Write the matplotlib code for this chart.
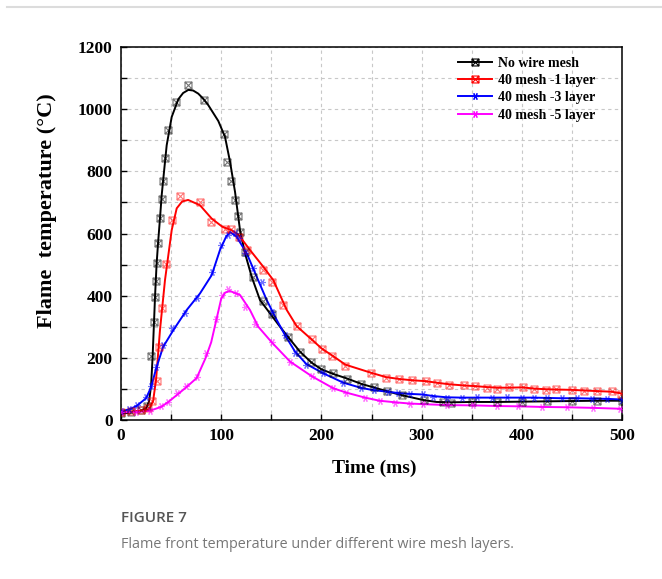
import numpy as np
import matplotlib
matplotlib.use("Agg")
import matplotlib.pyplot as plt
from matplotlib.path import Path
from matplotlib.ticker import MultipleLocator
from matplotlib.lines import Line2D

# values (time in ms, temperature in degC)
# measured points (markers)
t_none = [0, 10, 20, 26, 29.6, 33.3, 33.9, 34.9, 35.6, 36.6, 38.9, 40.6, 41.6, 43.9, 47.2,
          54.9, 66.9, 83.1, 103.1, 105.5, 109.8, 114.1, 116.5, 118.5, 123.8, 131.5, 141.7,
          151, 167, 178.6, 190, 200, 212, 226, 240, 252, 265, 280, 302, 321, 329, 350,
          375, 400, 425, 450, 475, 500]
T_none = [22, 26, 32, 45, 207, 316, 397, 448, 504, 570, 650, 712, 770, 843, 933,
          1023, 1078, 1028, 920, 829, 768, 707, 656, 605, 541, 459, 384,
          340, 266, 220, 185, 165, 150, 133, 115, 105, 92, 80, 64, 57, 56, 58,
          58, 59, 60, 61, 62, 62]

t_1 = [0, 10, 20, 27, 31, 35.6, 37.9, 40.6, 44.6, 50.6, 58.9, 78.8, 89.5, 103.8, 110, 118,
       125.4, 142, 151, 162, 175.3, 190.3, 200.3, 211, 224, 249.5, 264.5, 277.4, 290, 304,
       315, 327.3, 342.6, 353.6, 365, 375, 387.5, 400.8, 412.4, 423.7, 434, 449.8, 462,
       475, 489.7, 499]
T_1 = [25, 28, 32, 38, 60, 126, 234, 359, 502, 645, 721, 700, 638, 616, 615, 590,
       547, 482, 445, 370, 302, 259, 230, 207, 175, 152, 136, 132, 128, 125,
       120, 113, 111, 109, 104, 101, 105, 105, 100, 96, 99, 96, 94,
       92, 93, 83]

t_3 = [0, 8, 15.6, 25, 30, 35, 42, 50.6, 63.9, 76.2, 90.5, 99.8, 107.1, 113.8, 118, 123.8,
       132, 140.4, 151, 163.7, 173.7, 185, 202, 221.9, 240, 252, 266, 276, 288.4, 301,
       311.7, 325, 340, 355, 370, 385, 400, 412, 425, 440, 455, 470, 485, 500]
T_3 = [28, 35, 48, 75, 110, 171, 240, 295, 345, 394, 477, 563, 595, 602, 585, 536,
       490, 445, 348, 273, 214, 177, 152, 118, 102, 96, 91, 86, 83, 83,
       75, 72, 72, 73, 72, 73, 72, 72, 71, 70, 70, 69, 68, 64]

t_5 = [0, 15, 29, 40, 47.2, 55.6, 65, 75.5, 84.5, 94.8, 100.5, 107.1, 115, 123.8, 133.7,
       150.4, 168.7, 190.3, 211.9, 225, 243.5, 258, 273.5, 288, 301.7, 325, 351.6, 375,
       396.5, 420.5, 444.8, 471.4, 498]
T_5 = [25, 25, 30, 45, 59, 88, 110, 139, 214, 325, 402, 421, 410, 362, 309,
       250, 188, 141, 102, 88, 70, 62, 56, 53, 51, 48, 48, 45,
       44, 42, 41, 39, 36]

# fitted curves (lines)
tf_none = [0, 10, 20, 25, 28, 30, 31.5, 32.9, 34, 35.5, 37, 38.9, 40.6, 42.9, 45.6, 50.6,
           57.2, 62, 67.2, 72, 77.1, 82, 87.1, 97.1, 103.8, 108.8, 113.8, 118.8, 123.8,
           130.4, 138.7, 148.7, 158.7, 167, 178.6, 190, 200, 212, 226, 240, 252, 265, 280,
           302, 315, 330, 350, 375, 400, 425, 450, 475, 500]
Tf_none = [20, 24, 30, 38, 60, 110, 200, 311, 400, 500, 570, 648, 723, 798, 884, 975,
           1032, 1052, 1062, 1060, 1050, 1034, 1013, 962, 911, 831, 734, 610, 536,
           461, 386, 343, 300, 266, 220, 185, 163, 148, 133, 116, 105, 93, 80,
           64, 58, 57, 58, 58, 59, 60, 61, 62, 62]

tf_1 = [0, 10, 20, 28, 32, 35, 38.9, 43.9, 50.6, 55.6, 61, 67, 78.8, 90.5, 101, 110, 117,
        128.7, 142, 152, 165.4, 175.3, 190.3, 200.3, 211, 224, 249.5, 264.5, 277.4, 290,
        304, 315, 327.3, 342.6, 353.6, 365, 375, 387.5, 400.8, 412.4, 423.7, 434, 449.8,
        462, 475, 489.7, 500]
Tf_1 = [25, 27, 30, 35, 60, 130, 289, 450, 611, 681, 703, 708, 691, 648, 622, 611, 597,
        547, 493, 450, 354, 302, 259, 230, 207, 178, 152, 138, 132, 128,
        125, 120, 115, 111, 109, 106, 104, 104, 105, 101, 99, 98, 97,
        95, 93, 91, 85]

tf_3 = [0, 8, 15.6, 25, 30, 35, 42, 52.2, 65.6, 78.8, 90.5, 98.8, 104.8, 108.8, 115.5,
        125.5, 135.4, 145.4, 155.4, 163.7, 173.7, 185, 202, 221.9, 240, 252, 266, 276,
        288.4, 301, 311.7, 325, 340, 355, 370, 385, 400, 412, 425, 440, 455, 470, 485, 500]
Tf_3 = [28, 34, 45, 70, 105, 165, 235, 289, 354, 407, 466, 547, 589, 605, 589,
        536, 461, 386, 322, 273, 220, 180, 150, 120, 103, 96, 91, 87,
        84, 82, 77, 73, 72, 72, 72, 72, 72, 72, 71, 70, 70, 69, 68, 66]

tf_5 = [0, 15, 29, 40, 47.2, 55.6, 65, 75.5, 84.5, 90, 95, 100, 104, 108.8, 118.8, 128.7,
        137, 150.4, 168.7, 190.3, 211.9, 225, 243.5, 258, 273.5, 288, 301.7, 325, 351.6,
        375, 396.5, 420.5, 444.8, 471.4, 500]
Tf_5 = [25, 25, 30, 42, 58, 80, 105, 135, 200, 250, 320, 390, 410, 415, 402, 354,
        300, 250, 188, 141, 102, 88, 72, 62, 57, 53, 51, 48, 47,
        45, 44, 42, 41, 39, 36]

labels = ["No wire mesh", "40 mesh -1 layer", "40 mesh -3 layer", "40 mesh -5 layer"]
colors = ["#000000", "#ff0000", "#0000ff", "#ff00ff"]

# square with a cross inside, like the Origin marker
box_x = Path([(-1, -1), (1, -1), (1, 1), (-1, 1), (-1, -1),
              (-1, -1), (1, 1), (-1, 1), (1, -1)],
             [Path.MOVETO, Path.LINETO, Path.LINETO, Path.LINETO, Path.CLOSEPOLY,
              Path.MOVETO, Path.LINETO, Path.MOVETO, Path.LINETO])

W, H = 662, 579
fig = plt.figure(figsize=(W / 100, H / 100), dpi=100)
ax = fig.add_axes([121 / W, 1 - 420 / H, 501 / W, 373 / H])

series = [
    (tf_none, Tf_none, t_none, T_none, box_x),
    (tf_1, Tf_1, t_1, T_1, box_x),
    (tf_3, Tf_3, t_3, T_3, (6, 2, 90)),
    (tf_5, Tf_5, t_5, T_5, (6, 2, 90)),
]
handles = []
for (tf, Tf, t, T, mk), lab, c in zip(series, labels, colors):
    ax.plot(tf, Tf, color=c, lw=1.4, zorder=3)
    ax.plot(t, T, ls="none", marker=mk, ms=5, mfc="none", mec=c, mew=0.8, alpha=0.55, zorder=4)
    handles.append(Line2D([], [], color=c, lw=1.4, marker=mk, ms=5, mfc="none", mec=c, mew=0.8))

ax.set_xlim(0, 500)
ax.set_ylim(0, 1200)
ax.xaxis.set_major_locator(MultipleLocator(100))
ax.xaxis.set_minor_locator(MultipleLocator(50))
ax.yaxis.set_major_locator(MultipleLocator(200))
ax.yaxis.set_minor_locator(MultipleLocator(100))
ax.grid(True, which="both", ls=(0, (3, 3)), color="#c8c8c8", lw=0.8)
ax.set_axisbelow(True)
ax.tick_params(which="both", direction="in", length=4, width=1, top=False, right=False)
ax.tick_params(which="major", pad=6)
for sp in ax.spines.values():
    sp.set_linewidth(1.1)

serif = "Liberation Serif"
for lbl in ax.get_xticklabels() + ax.get_yticklabels():
    lbl.set_fontfamily(serif)
    lbl.set_fontweight("bold")
    lbl.set_fontsize(12.5)

fig.text(374 / W, 1 - 468 / H, "Time (ms)", ha="center", va="center",
         family=serif, weight="bold", fontsize=14)
fig.text(47 / W, 1 - 211 / H, "Flame  temperature (\u00b0C)", ha="center", va="center",
         rotation=90, family=serif, weight="bold", fontsize=16)

ax.legend(handles, labels, loc="upper left", bbox_to_anchor=(458 / W, 1 - 57 / H),
          bbox_transform=fig.transFigure, frameon=False, borderpad=0, borderaxespad=0,
          handlelength=2.45, handletextpad=0.45, labelspacing=0.3,
          prop={"family": serif, "weight": "bold", "size": 10})

# page decoration: top rule and caption
fig.add_artist(Line2D([7 / W, 1], [1 - 6.5 / H, 1 - 6.5 / H], color="#dcdcdc", lw=1.5))
fig.text(121 / W, 1 - 518 / H, "FIGURE 7", ha="left", va="center",
         family="Open Sans", weight="semibold", fontsize=11, color="#555555")
fig.text(121 / W, 1 - 544 / H, "Flame front temperature under different wire mesh layers.",
         ha="left", va="center", family="Open Sans", fontsize=10.4, color="#777777")

fig.savefig("out.png", dpi=100)
